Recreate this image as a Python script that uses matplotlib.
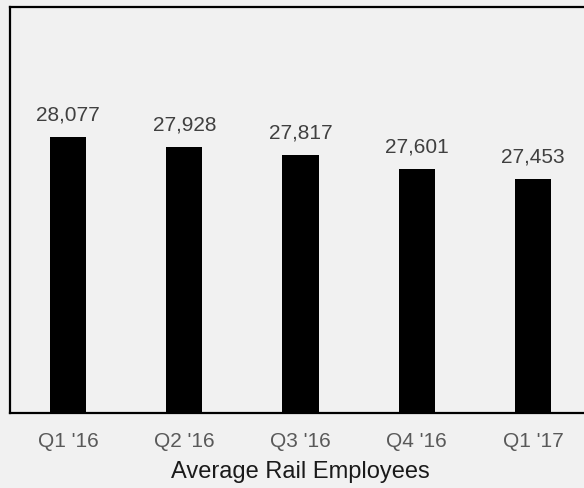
import matplotlib.pyplot as plt

plt.rcParams['font.family'] = ['Liberation Sans', 'DejaVu Sans']

quarters = ["Q1 '16", "Q2 '16", "Q3 '16", "Q4 '16", "Q1 '17"]
employees = [28077, 27928, 27817, 27601, 27453]

bg = '#f1f1f1'
fig = plt.figure(figsize=(5.84, 4.88), dpi=100, facecolor=bg)
# axes runs slightly past the right edge of the figure
ax = fig.add_axes([10 / 584, 1 - 413 / 488, 581 / 584, 406 / 488], facecolor=bg)

x = range(len(quarters))
bars = ax.bar(x, employees, width=0.31, color='black', zorder=2)

for xi, val in zip(x, employees):
    ax.annotate(f'{val:,}', (xi, val), xytext=(0, 9), textcoords='offset points',
                ha='center', va='bottom', fontsize=15, color='#404040')

ax.set_xlim(-0.5, 4.5)
ax.set_ylim(24000, 30000)
ax.set_yticks([])
ax.set_xticks(list(x))
ax.set_xticklabels(quarters, fontsize=15, color='#595959')
ax.tick_params(axis='x', length=0, pad=14)
ax.set_xlabel('Average Rail Employees', fontsize=17, color='#1a1a1a', labelpad=7)

for side in ['left', 'top', 'right', 'bottom']:
    ax.spines[side].set_color('black')
    ax.spines[side].set_linewidth(1.6)

fig.savefig('out.png', dpi=100, facecolor=bg)
